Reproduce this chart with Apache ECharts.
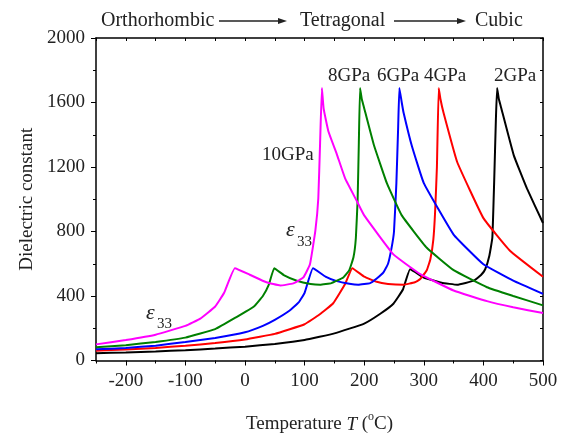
<!DOCTYPE html>
<html>
<head>
<meta charset="utf-8">
<script src="https://cdn.jsdelivr.net/npm/echarts@6/dist/echarts.min.js"></script>
<style>
  html, body { margin: 0; padding: 0; background: #fff; }
  #chart { width: 562px; height: 439px; }
</style>
</head>
<body>
<div id="chart"></div>
<script>
// temperatures (degC) and dielectric constant for each pressure
var t2 = [-250, -200, -150, -100, -50, 0, 50, 100, 150, 200, 227, 249, 265, 277, 300, 330, 356, 384, 396, 403, 410, 415, 418, 421, 423, 426, 429, 451, 473, 500];
var e2 = [45, 50, 56, 64, 74, 86, 103, 127, 168, 229, 290, 352, 440, 566, 515, 482, 470, 495, 530, 566, 650, 761, 1100, 1500, 1690, 1620, 1579, 1272, 1067, 853];

var t4 = [-250, -200, -150, -100, -50, 0, 50, 100, 125, 148, 168, 180, 200, 221, 240, 266, 285, 294, 305, 311, 316, 319, 322, 325, 328, 333, 356, 400, 445, 500];
var e4 = [61, 68, 78, 92, 108, 130, 165, 225, 285, 355, 474, 572, 520, 488, 475, 470, 485, 505, 560, 628, 750, 924, 1200, 1690, 1620, 1538, 1231, 883, 679, 519];

var t6 = [-250, -200, -150, -100, -50, 0, 30, 50, 75, 90, 100, 114, 135, 154, 175, 190, 210, 221, 232, 240, 246, 250, 254, 257, 259, 263, 266, 280, 300, 350, 400, 450, 500];
var e6 = [69, 78, 92, 115, 140, 175, 215, 252, 310, 360, 420, 572, 520, 492, 476, 470, 480, 509, 545, 600, 700, 800, 1100, 1450, 1690, 1600, 1538, 1330, 1100, 781, 597, 495, 413];

var t8 = [-250, -200, -150, -100, -50, -15, 15, 30, 40, 49, 65, 87, 110, 126, 145, 165, 175, 182, 186, 189, 191, 193, 196, 199, 216, 238, 263, 305, 350, 406, 450, 500];
var e8 = [82, 95, 115, 142, 195, 268, 335, 400, 470, 572, 530, 495, 475, 470, 480, 515, 560, 640, 760, 1000, 1350, 1690, 1620, 1579, 1340, 1100, 900, 699, 560, 454, 400, 342];

var t10 = [-250, -200, -150, -100, -75, -50, -35, -17, 8, 36, 59, 81, 98, 109, 118, 123, 126, 129, 132, 140, 154, 168, 188, 200, 249, 294, 350, 406, 450, 500];
var e10 = [100, 127, 160, 215, 260, 335, 420, 572, 532, 485, 465, 478, 515, 597, 804, 1006, 1350, 1690, 1560, 1420, 1280, 1129, 986, 900, 658, 536, 434, 368, 330, 294];

var seriesNames = ['2GPa', '4GPa', '6GPa', '8GPa', '10GPa'];
var seriesColors = ['#000000', '#ff0000', '#0000ff', '#008000', '#ff00ff'];
var seriesT = [t2, t4, t6, t8, t10];
var seriesE = [e2, e4, e6, e8, e10];

var xMajor = [-200, -100, 0, 100, 200, 300, 400, 500];
var xMinor = [-250, -150, -50, 50, 150, 250, 350, 450];

var font = 'Liberation Serif';

var chart = echarts.init(document.getElementById('chart'), null, { renderer: 'canvas' });

function pairs(ts, es) {
    var out = [];
    for (var i = 0; i < ts.length; i++) out.push([ts[i], es[i]]);
    return out;
}

var series = [];
for (var i = 0; i < seriesNames.length; i++) {
    series.push({
        name: seriesNames[i],
        type: 'line',
        xAxisIndex: 0,
        yAxisIndex: 0,
        data: pairs(seriesT[i], seriesE[i]),
        showSymbol: false,
        smooth: 0.1,
        lineStyle: { color: seriesColors[i], width: 2 },
        itemStyle: { color: seriesColors[i] },
        animation: false
    });
}

function label(x, y, str, fontSpec) {
    return {
        type: 'text', x: x, y: y,
        style: { text: str, font: fontSpec, fill: '#222', textVerticalAlign: 'middle' }
    };
}

function arrow(x1, x2, y) {
    return [
        { type: 'line', shape: { x1: x1, y1: y, x2: x2 - 6, y2: y }, style: { stroke: '#222', lineWidth: 1.5 } },
        { type: 'polygon', shape: { points: [[x2 - 9, y - 3], [x2, y], [x2 - 9, y + 3]] }, style: { fill: '#222' } }
    ];
}

var f19 = '19px "' + font + '"';
var f20 = '20px "' + font + '"';
var graphics = [
    label(101, 21, 'Orthorhombic', f20),
    label(300, 21, 'Tetragonal', f20),
    label(475, 21, 'Cubic', f20),
    label(262, 155, '10GPa', f19),
    label(328, 76, '8GPa', f19),
    label(377, 76, '6GPa', f19),
    label(424, 76, '4GPa', f19),
    label(494, 76, '2GPa', f19),
    label(146, 313, 'ε', 'italic 22px "' + font + '"'),
    label(157, 324, '33', '15px "' + font + '"'),
    label(286, 230, 'ε', 'italic 22px "' + font + '"'),
    label(297, 242, '33', '15px "' + font + '"')
].concat(arrow(219, 287, 21)).concat(arrow(394, 466, 21));

var axisLineStyle = { color: '#000', width: 1.5 };

var option = {
    animation: false,
    backgroundColor: '#fff',
    grid: { left: 96, right: 19, top: 38, bottom: 75 },
    xAxis: [
        {
            type: 'value', position: 'bottom', min: -250, max: 500,
            axisLine: { show: true, onZero: false, lineStyle: axisLineStyle },
            axisTick: { show: true, inside: false, length: 5, customValues: xMajor, lineStyle: { color: '#000', width: 1 } },
            axisLabel: { customValues: xMajor, margin: 11, fontFamily: font, fontSize: 19, color: '#222' },
            splitLine: { show: false },
            name: '{a|Temperature }{i|T}{a| (}{s|o}{a|C)}',
            nameLocation: 'middle',
            nameGap: 50,
            nameTextStyle: {
                rich: {
                    a: { fontFamily: font, fontSize: 19, color: '#222', lineHeight: 28 },
                    i: { fontFamily: font, fontSize: 19, fontStyle: 'italic', color: '#222', lineHeight: 28 },
                    s: { fontFamily: font, fontSize: 12, color: '#222', lineHeight: 12, verticalAlign: 'top' }
                }
            }
        },
        {
            type: 'value', position: 'bottom', min: -250, max: 500,
            axisLine: { show: false, onZero: false },
            axisTick: { show: true, inside: false, length: 3, customValues: xMinor, lineStyle: { color: '#000', width: 1 } },
            axisLabel: { show: false },
            splitLine: { show: false }
        },
        {
            type: 'value', position: 'top', min: -250, max: 500, interval: 50,
            axisLine: { show: true, onZero: false, lineStyle: axisLineStyle },
            axisTick: { show: true, inside: true, length: 3, lineStyle: { color: '#000', width: 1 } },
            axisLabel: { show: false },
            splitLine: { show: false }
        }
    ],
    yAxis: [
        {
            type: 'value', position: 'left', min: 0, max: 2000, interval: 400,
            axisLine: { show: true, onZero: false, lineStyle: axisLineStyle },
            axisTick: { show: true, inside: false, length: 5, lineStyle: { color: '#000', width: 1 } },
            minorTick: { show: true, splitNumber: 2, length: 3, lineStyle: { color: '#000', width: 1 } },
            axisLabel: { margin: 11, fontFamily: font, fontSize: 19, color: '#222', formatter: function (v) { return String(v); } },
            splitLine: { show: false },
            name: 'Dielectric constant',
            nameLocation: 'middle',
            nameGap: 57,
            nameTextStyle: { fontFamily: font, fontSize: 19, color: '#222' }
        },
        {
            type: 'value', position: 'right', min: 0, max: 2000, interval: 200,
            axisLine: { show: true, onZero: false, lineStyle: axisLineStyle },
            axisTick: { show: true, inside: true, length: 3, lineStyle: { color: '#000', width: 1 } },
            axisLabel: { show: false },
            splitLine: { show: false }
        }
    ],
    graphic: graphics,
    series: series
};

chart.setOption(option);
</script>
</body>
</html>
